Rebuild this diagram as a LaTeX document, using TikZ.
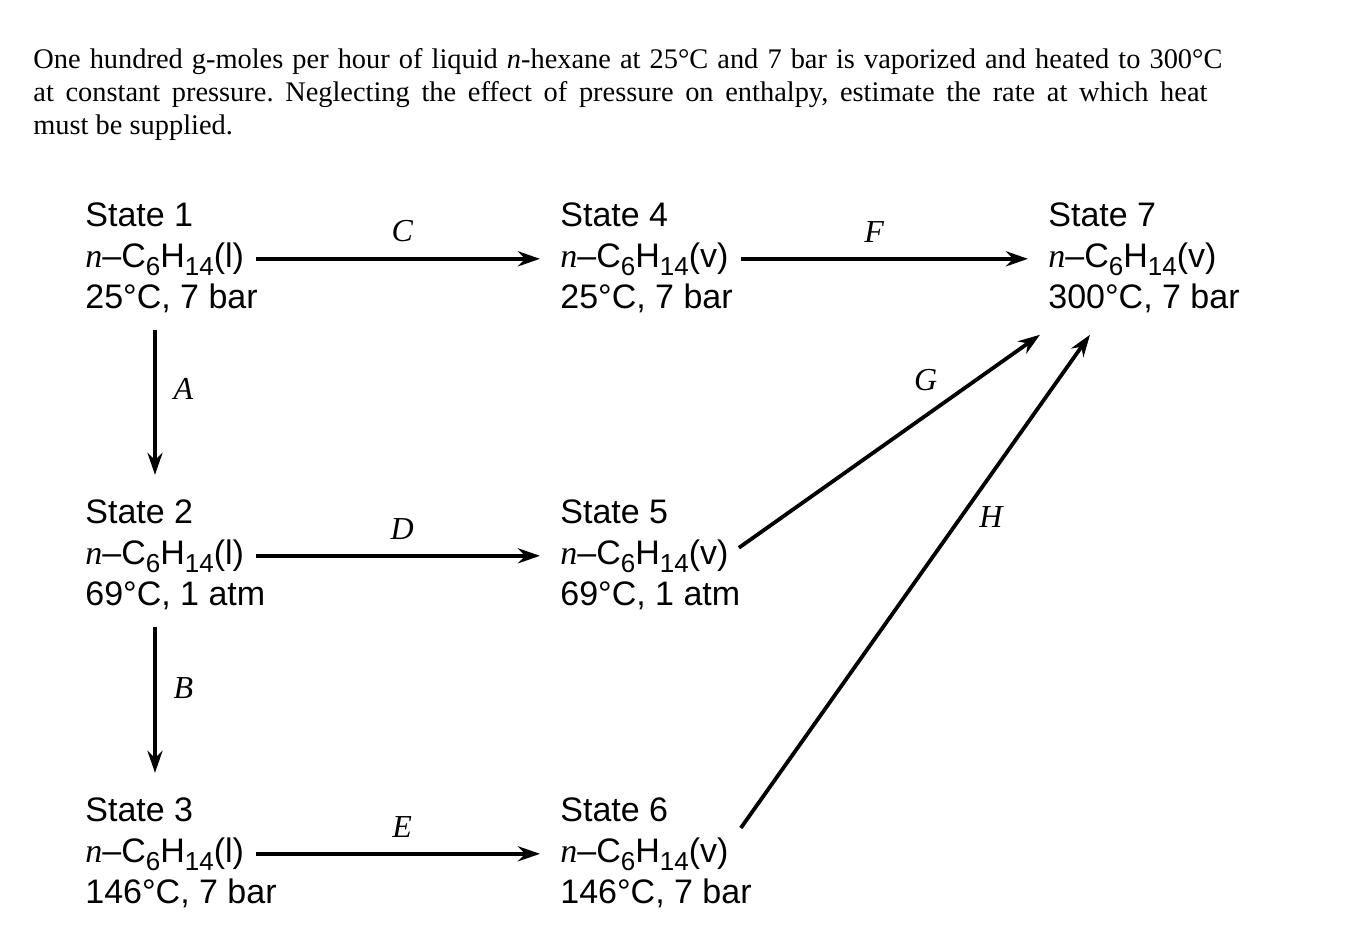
\documentclass[tikz,border=0pt]{standalone}
\usepackage{fontspec}
\setmainfont{Liberation Serif}
\setsansfont{Liberation Sans}
\usetikzlibrary{arrows.meta, positioning}

\newcommand{\hexsub}[1]{\raisebox{-4pt}{\fontsize{13}{13}\selectfont #1}}
\newcommand{\hexane}[1]{{\rmfamily\itshape n}--C\hexsub{6}H\hexsub{14}(#1)}

\begin{document}
\frenchspacing
\begin{tikzpicture}[x=0.5pt, y=-0.5pt,
  prob/.style={anchor=base west, inner sep=0pt, font=\fontsize{14.2}{16.5}\selectfont},
  state/.style={anchor=base west, inner sep=0pt, font=\sffamily\fontsize{17}{20}\selectfont},
  lbl/.style={font=\rmfamily\itshape\fontsize{16}{16}\selectfont},
  flow/.style={-{Stealth[length=11pt, width=7.5pt]}, line width=1.9pt, shorten <=6pt, shorten >=10pt},
  vflow/.style={-{Stealth[length=11pt, width=7.5pt]}, line width=1.9pt, shorten <=8.5pt, shorten >=12pt},
  dflow/.style={-{Stealth[length=11pt, width=7.5pt]}, line width=1.9pt},
]
\useasboundingbox (0,0) rectangle (1349,944);

% Problem statement
\node[prob] (p1) at (33,68)  {\makebox[594.5pt][s]{One hundred g-moles per hour of liquid \textit{n}-hexane at 25°C and 7 bar is vaporized and heated to 300°C}};
\node[prob] (p2) at (33,101) {\makebox[587pt][s]{at constant pressure. Neglecting the effect of pressure on enthalpy, estimate the rate at which heat}};
\node[prob] (p3) at (33,134) {must be supplied.};

% States, column 1
\node[state] (s1t) at (85,226) {State 1};
\node[state] (s1f) at (85,267) {\hexane{l}};
\node[state] (s1c) at (85,308) {25°C, 7 bar};
\node[state] (s2t) at (85,523) {State 2};
\node[state] (s2f) at (85,564) {\hexane{l}};
\node[state] (s2c) at (85,605) {69°C, 1 atm};
\node[state] (s3t) at (85,821) {State 3};
\node[state] (s3f) at (85,862) {\hexane{l}};
\node[state] (s3c) at (85,903) {146°C, 7 bar};

% States, column 2
\node[state] (s4t) at (560,226) {State 4};
\node[state] (s4f) at (560,267) {\hexane{v}};
\node[state] (s4c) at (560,308) {25°C, 7 bar};
\node[state] (s5t) at (560,523) {State 5};
\node[state] (s5f) at (560,564) {\hexane{v}};
\node[state] (s5c) at (560,605) {69°C, 1 atm};
\node[state] (s6t) at (560,821) {State 6};
\node[state] (s6f) at (560,862) {\hexane{v}};
\node[state] (s6c) at (560,903) {146°C, 7 bar};

% State 7
\node[state] (s7t) at (1048,226) {State 7};
\node[state] (s7f) at (1048,267) {\hexane{v}};
\node[state] (s7c) at (1048,308) {300°C, 7 bar};

% Horizontal paths
\draw[flow] (s1f.east) -- node[lbl, above=4pt]{C} (s4f.west);
\draw[flow] (s4f.east) -- node[lbl, above=4pt, pos=0.455]{F} (s7f.west);
\draw[flow] (s2f.east) -- node[lbl, above=4pt]{D} (s5f.west);
\draw[flow] (s3f.east) -- node[lbl, above=4pt]{E} (s6f.west);

% Vertical paths
\draw[vflow] ([xshift=35pt]s1c.south west) -- node[lbl, right=5pt, pos=0.41]{A} ([xshift=35pt]s2t.north west);
\draw[vflow] ([xshift=35pt]s2c.south west) -- node[lbl, right=5pt, pos=0.42]{B} ([xshift=35pt]s3t.north west);

% Diagonal paths to state 7
\draw[dflow] ([shift={(5pt,4pt)}]s5f.east) -- node[lbl, above=8pt, pos=0.62]{G} ([shift={(-4pt,-11pt)}]s7c.south west);
\draw[dflow] ([shift={(6pt,4.5pt)}]s6f.north east) -- node[lbl, right=5pt, pos=0.63]{H} ([shift={(21pt,-11pt)}]s7c.south west);

\end{tikzpicture}
\end{document}
